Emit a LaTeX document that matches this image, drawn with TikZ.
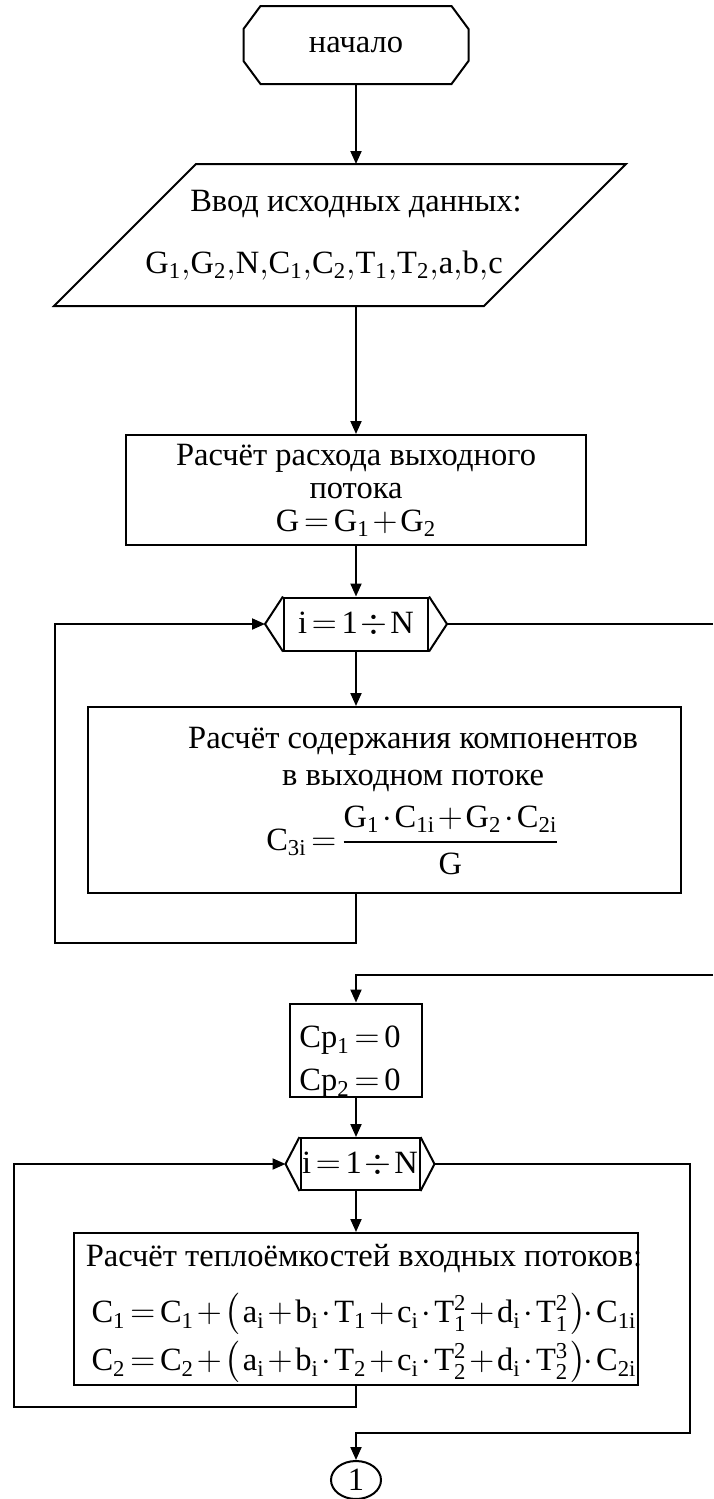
\documentclass[tikz,border=0pt]{standalone}
\usepackage{amsmath}
\usepackage{fontspec}
\setmainfont{Liberation Serif}
\usetikzlibrary{positioning,arrows.meta,shapes.geometric}
\newcommand\lpar{\mathopen{\hbox{$\left(\vcenter to 21pt{}\right.$}}}
\newcommand\rpar{\mathclose{\hbox{$\left.\vcenter to 21pt{}\right)$}}}

\begin{document}
\thickmuskip=2.5mu \medmuskip=1.5mu
\begin{tikzpicture}[x=0.5pt, y=-0.5pt, line width=1pt,
      font=\fontsize{16.25}{16.5}\selectfont,
      blk/.style={draw, rectangle, inner sep=0pt},
      txt/.style={align=center, inner sep=0pt},
      arr/.style={-{Triangle[length=6.5pt,width=5.5pt]}}]
  \useasboundingbox (0,0) rectangle (713,1499);

  % start
  \node[minimum width=111.5pt, minimum height=38pt] (start) at (356,45) {начало};
  \draw ([xshift=8.5pt]start.north west) -- ([xshift=-8.5pt]start.north east)
     -- ([yshift=-11.5pt]start.north east) -- ([yshift=11.5pt]start.south east)
     -- ([xshift=-8.5pt]start.south east) -- ([xshift=8.5pt]start.south west)
     -- ([yshift=11.5pt]start.south west) -- ([yshift=-11.5pt]start.north west) -- cycle;

  % input data
  \node[minimum width=285pt, minimum height=70pt, inner sep=0pt, align=center,
        font=\fontsize{16.25}{18.5}\selectfont] (input) at (340,235)
        {\hspace*{16pt}Ввод исходных данных:\\[12.5pt]
         $\thinmuskip=0mu\mathrm{G_1,G_2,N,C_1,C_2,T_1,T_2,a,b,c}$\hspace*{16pt}};
  \draw ([xshift=71pt]input.north west) -- (input.north east)
     -- ([xshift=-71pt]input.south east) -- (input.south west) -- cycle;

  % outlet flow
  \node[blk, minimum width=230pt, minimum height=55pt, align=center] (flow) at (356,490)
        {Расчёт расхода выходного\\потока\\$\mathrm{G=G_1+G_2}$};

  % first loop
  \node[blk, minimum width=72pt, minimum height=26.5pt] (loopA) at (356,624) {$\mathrm{i=1\div N}$};
  \draw (loopA.north west) -- ([xshift=-9pt]loopA.west) -- (loopA.south west)
        (loopA.north east) -- ([xshift=9pt]loopA.east) -- (loopA.south east);

  \node[blk, minimum width=296.5pt, minimum height=93pt] (mix) at (384.5,800) {};
  \node[txt, font=\fontsize{16.25}{18.5}\selectfont] (mixtext) at (413,801)
        {Расчёт содержания компонентов\\в выходном потоке\\[6pt]
         $\mathrm{C_{3i}=\dfrac{G_1\cdot C_{1i}+G_2\cdot C_{2i}}{G}}$};

  \coordinate (backA) at (55,943);
  \coordinate (exitA) at (713,624);
  \coordinate (entryB) at (713,975);

  % zero init
  \node[blk, minimum width=66pt, minimum height=46.5pt] (cpzero) at (356,1050) {};
  \node[txt, font=\fontsize{16.25}{21.5}\selectfont] (cptext) at (350,1062)
        {$\mathrm{Cp_1=0}$\\$\mathrm{Cp_2=0}$};

  % second loop
  \node[blk, minimum width=59.5pt, minimum height=26pt] (loopB) at (360,1164) {$\mathrm{i=1\div N}$};
  \draw (loopB.north west) -- ([xshift=-7pt]loopB.west) -- (loopB.south west)
        (loopB.north east) -- ([xshift=7pt]loopB.east) -- (loopB.south east);

  \node[blk, minimum width=282pt, minimum height=76pt] (heat) at (356,1309) {};
  \node[txt, font=\fontsize{16.25}{22}\selectfont] (heattext) at (364,1314)
        {Расчёт теплоёмкостей входных потоков:\\[6pt]
         $\mathrm{C_1=C_1+\lpar a_i+b_i\cdot T_1+c_i\cdot T_1^2+d_i\cdot T_1^2\rpar\!\cdot C_{1i}}$\\[2pt]
         $\mathrm{C_2=C_2+\lpar a_i+b_i\cdot T_2+c_i\cdot T_2^2+d_i\cdot T_2^3\rpar\!\cdot C_{2i}}$};

  \coordinate (backB) at (14,1407);
  \coordinate (exitB) at (690,1433);

  \node[draw, ellipse, minimum width=25pt, minimum height=19pt, inner sep=0pt] (fin) at (356,1480) {1};

  % connectors
  \draw[arr] (start.south) -- (start.south |- input.north);
  \draw[arr] (flow.north |- input.south) -- (flow.north);
  \draw[arr] (flow.south) -- (loopA.north);
  \draw[arr] (loopA.south) -- (loopA.south |- mix.north);
  \draw[arr] (loopA.south |- mix.south) |- (backA) |- ([xshift=-9pt]loopA.west);
  \draw ([xshift=9pt]loopA.east) -- (exitA);
  \draw[arr] (entryB) -| (cpzero.north);
  \draw[arr] (cpzero.south) -- (cpzero.south |- loopB.north);
  \draw[arr] (cpzero.south |- loopB.south) -- (heat.north);
  \draw[arr] (heat.south) |- (backB) |- ([xshift=-7pt]loopB.west);
  \draw[arr] ([xshift=7pt]loopB.east) -| (exitB) -| (fin.north);
\end{tikzpicture}
\end{document}
